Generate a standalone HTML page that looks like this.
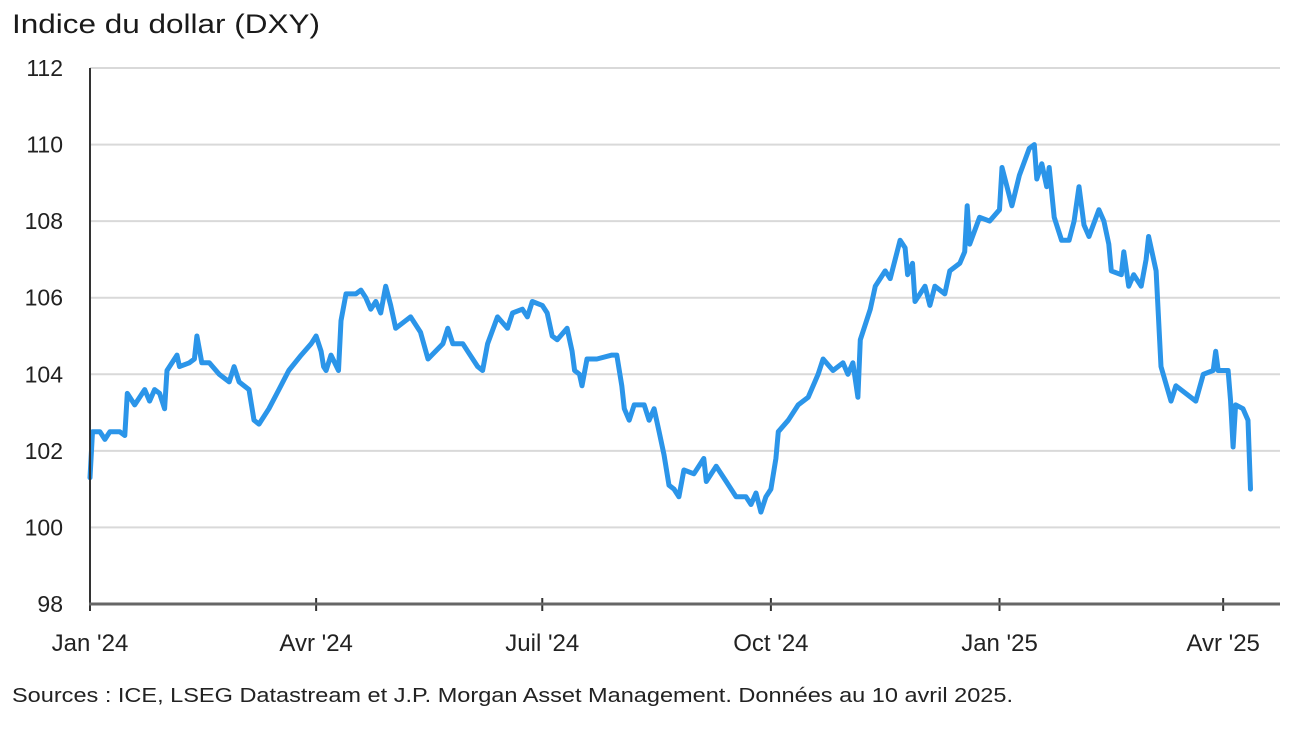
<!DOCTYPE html>
<html><head><meta charset="utf-8"><style>
body{margin:0;background:#fff;width:1298px;height:742px;overflow:hidden;font-family:"Liberation Sans",sans-serif;}
</style></head><body>
<svg id="chart" width="1298" height="742" xmlns="http://www.w3.org/2000/svg">
<text x="12" y="33" font-size="27" fill="#1a1a1a" textLength="308" lengthAdjust="spacingAndGlyphs" font-family="Liberation Sans, sans-serif">Indice du dollar (DXY)</text>
<g id="grid"></g>
<g id="yticks"></g>
<g id="xticks"></g>
<path id="line" fill="none" stroke="#2b95e9" stroke-width="5" stroke-linejoin="round" stroke-linecap="round"/>
<line x1="90" y1="68" x2="90" y2="605" stroke="#333" stroke-width="2"/>
<line x1="89" y1="604" x2="1280" y2="604" stroke="#666" stroke-width="3"/>
<text x="12" y="702" font-size="20" fill="#222" textLength="1001" lengthAdjust="spacingAndGlyphs" font-family="Liberation Sans, sans-serif">Sources : ICE, LSEG Datastream et J.P. Morgan Asset Management. Données au 10 avril 2025.</text>
</svg>
<script>
const yTickValues=[98,100,102,104,106,108,110,112];
const xTickDays=[0,91,182,274,366,456];
const xTickLabels=["Jan '24","Avr '24","Juil '24","Oct '24","Jan '25","Avr '25"];
const days=[0,1,4,6,8,12,14,15,18,22,24,26,28,30,31,35,36,40,42,43,45,48,52,56,58,60,64,66,68,72,76,80,85,89,91,93,94,95,97,100,101,103,107,109,111,113,115,117,119,121,123,127,129,133,136,142,144,146,150,152,156,158,160,164,168,170,174,176,178,182,184,186,188,192,194,195,197,198,200,204,210,212,214,215,217,219,223,225,227,229,231,233,235,237,239,243,247,248,252,256,260,264,266,268,270,272,274,276,277,281,285,289,293,295,299,303,305,307,309,310,314,316,320,322,326,328,329,331,332,336,338,340,344,346,350,352,353,354,358,362,366,367,369,371,374,378,380,381,383,385,386,388,391,394,396,398,400,402,406,408,410,411,415,416,418,420,423,425,426,429,431,435,437,445,448,452,453,454,458,459,460,461,464,466,467];
const values=[101.3,102.5,102.5,102.3,102.5,102.5,102.4,103.5,103.2,103.6,103.3,103.6,103.5,103.1,104.1,104.5,104.2,104.3,104.4,105.0,104.3,104.3,104.0,103.8,104.2,103.8,103.6,102.8,102.7,103.1,103.6,104.1,104.5,104.8,105.0,104.6,104.2,104.1,104.5,104.1,105.4,106.1,106.1,106.2,106.0,105.7,105.9,105.6,106.3,105.8,105.2,105.4,105.5,105.1,104.4,104.8,105.2,104.8,104.8,104.6,104.2,104.1,104.8,105.5,105.2,105.6,105.7,105.5,105.9,105.8,105.6,105.0,104.9,105.2,104.6,104.1,104.0,103.7,104.4,104.4,104.5,104.5,103.7,103.1,102.8,103.2,103.2,102.8,103.1,102.5,101.9,101.1,101.0,100.8,101.5,101.4,101.8,101.2,101.6,101.2,100.8,100.8,100.6,100.9,100.4,100.8,101.0,101.8,102.5,102.8,103.2,103.4,104.0,104.4,104.1,104.3,104.0,104.3,103.4,104.9,105.7,106.3,106.7,106.5,107.5,107.3,106.6,106.9,105.9,106.3,105.8,106.3,106.1,106.7,106.9,107.2,108.4,107.4,108.1,108.0,108.3,109.4,108.9,108.4,109.2,109.9,110.0,109.1,109.5,108.9,109.4,108.1,107.5,107.5,108.0,108.9,107.9,107.6,108.3,108.0,107.4,106.7,106.6,107.2,106.3,106.6,106.3,107.0,107.6,106.7,104.2,103.3,103.7,103.3,104.0,104.1,104.6,104.1,104.1,103.3,102.1,103.2,103.1,102.8,101.0];
const X=d=>90+d*2.485;
const Y=v=>604-(v-98)*(536/14);
const NS="http://www.w3.org/2000/svg";
const grid=document.getElementById('grid'),yt=document.getElementById('yticks'),xt=document.getElementById('xticks');
yTickValues.forEach(v=>{
  if(v>98){const l=document.createElementNS(NS,'line');
  
  
  l.setAttribute('x1',90);l.setAttribute('x2',1280);l.setAttribute('y1',Y(v));l.setAttribute('y2',Y(v));
  l.setAttribute('stroke','#d9d9d9');l.setAttribute('stroke-width','2');grid.appendChild(l);}
  const t=document.createElementNS(NS,'text');
  
  
  t.setAttribute('x',63);t.setAttribute('y',Y(v)+8);t.setAttribute('text-anchor','end');
  t.setAttribute('font-size','23');t.setAttribute('fill','#222');t.textContent=v;yt.appendChild(t);
});
xTickDays.forEach((d,i)=>{
  const l=document.createElementNS(NS,'line');
  
  
  l.setAttribute('x1',X(d));l.setAttribute('x2',X(d));l.setAttribute('y1',598);l.setAttribute('y2',611);
  l.setAttribute('stroke','#333');l.setAttribute('stroke-width','2');xt.appendChild(l);
  const t=document.createElementNS(NS,'text');
  
  
  t.setAttribute('x',X(d));t.setAttribute('y',651);t.setAttribute('text-anchor','middle');
  t.setAttribute('font-size','24');t.setAttribute('fill','#222');t.textContent=xTickLabels[i];xt.appendChild(t);
});
document.getElementById('line').setAttribute('d',days.map((d,i)=>(i?'L':'M')+X(d).toFixed(1)+','+Y(values[i]).toFixed(1)).join(''));
</script>
</body></html>
